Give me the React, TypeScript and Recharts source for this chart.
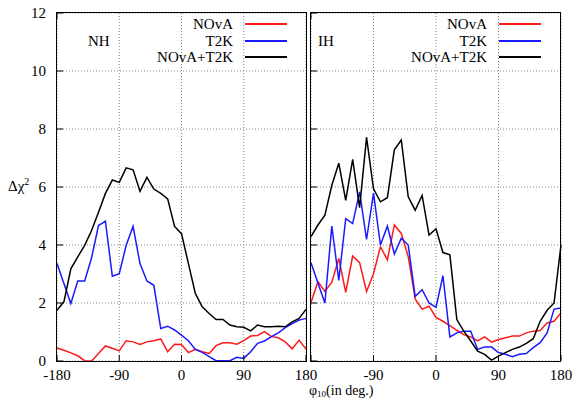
import React from 'react';
import { LineChart, Line, XAxis, YAxis, CartesianGrid, Legend } from 'recharts';

const phi = [-180, -170, -160, -150, -140, -130, -120, -110, -100, -90, -80, -70, -60, -50, -40, -30, -20, -10, 0, 10, 20, 30, 40, 50, 60, 70, 80, 90, 100, 110, 120, 130, 140, 150, 160, 170, 180];

const nhNova = [0.45, 0.37, 0.28, 0.18, 0.01, 0.0, 0.26, 0.52, 0.44, 0.35, 0.70, 0.66, 0.57, 0.66, 0.70, 0.76, 0.32, 0.58, 0.57, 0.29, 0.40, 0.32, 0.26, 0.53, 0.63, 0.63, 0.58, 0.70, 0.86, 0.88, 1.01, 0.84, 0.80, 0.66, 0.42, 0.72, 0.41];
const nhT2k = [3.36, 2.67, 1.98, 2.76, 2.76, 3.56, 4.67, 4.82, 2.92, 3.01, 3.99, 4.64, 3.36, 2.76, 2.61, 1.12, 1.20, 1.07, 0.89, 0.70, 0.40, 0.30, 0.15, 0.01, 0.01, 0.01, 0.13, 0.09, 0.32, 0.61, 0.69, 0.84, 0.97, 1.15, 1.29, 1.41, 1.47];
const nhComb = [1.75, 2.04, 3.18, 3.59, 3.99, 4.50, 5.13, 5.78, 6.24, 6.16, 6.66, 6.59, 5.85, 6.33, 5.93, 5.78, 5.59, 4.64, 4.39, 3.36, 2.33, 1.87, 1.64, 1.43, 1.43, 1.24, 1.18, 1.16, 1.04, 1.24, 1.18, 1.18, 1.20, 1.18, 1.35, 1.47, 1.78];

const ihNova = [2.02, 2.74, 2.40, 2.72, 3.54, 2.37, 3.62, 3.39, 2.40, 3.01, 3.94, 3.49, 4.69, 4.40, 3.60, 2.14, 1.79, 1.89, 1.50, 1.37, 1.22, 1.06, 0.91, 0.83, 0.69, 0.83, 0.65, 0.74, 0.80, 0.86, 0.86, 0.97, 1.03, 1.05, 1.31, 1.37, 1.66];
const ihT2k = [3.39, 2.69, 2.00, 4.65, 2.78, 4.91, 4.74, 5.83, 4.19, 5.79, 4.00, 4.65, 3.69, 4.23, 4.00, 2.23, 2.46, 2.00, 1.85, 2.94, 0.83, 0.97, 1.03, 1.03, 0.40, 0.48, 0.48, 0.29, 0.23, 0.15, 0.23, 0.26, 0.46, 0.63, 0.97, 1.79, 1.83];
const ihComb = [4.29, 4.69, 5.03, 6.06, 6.82, 5.54, 6.95, 5.29, 7.71, 5.94, 5.49, 5.63, 7.28, 7.62, 5.66, 5.20, 5.71, 4.34, 4.56, 3.74, 3.66, 1.43, 1.03, 0.69, 0.34, 0.23, 0.03, 0.17, 0.29, 0.40, 0.48, 0.61, 0.77, 1.37, 1.75, 2.00, 4.00];

const xTicks = [-180, -90, 0, 90, 180];
const yTicks = [0, 2, 4, 6, 8, 10, 12];
const seriesNames = ['NOvA', 'T2K', 'NOvA+T2K'];
const seriesColors = ['#ff1a1a', '#1a1aff', '#000000'];

const FONT = '"Liberation Serif", "DejaVu Serif", serif';

const nhData = phi.map((p, i) => ({ phi: p, nova: nhNova[i], t2k: nhT2k[i], comb: nhComb[i] }));
const ihData = phi.map((p, i) => ({ phi: p, nova: ihNova[i], t2k: ihT2k[i], comb: ihComb[i] }));

const tickStyle = { fill: '#000', fontSize: 15, fontFamily: FONT };
const tickLineStyle = { stroke: '#000', strokeWidth: 1 };

function LegendBox() {
  return (
    <div style={{ fontFamily: FONT, fontSize: 15, lineHeight: '16.5px', color: '#000' }}>
      {seriesNames.map((name, i) => (
        <div key={name} style={{ display: 'flex', justifyContent: 'flex-end', alignItems: 'center', height: 16.5 }}>
          <span>{name}</span>
          <svg width={42} height={6} style={{ marginLeft: 12 }}>
            <line x1={0} x2={42} y1={3} y2={3} stroke={seriesColors[i]} strokeWidth={2} />
          </svg>
        </div>
      ))}
    </div>
  );
}

function Panel(props: { data: any[]; showY: boolean; width: number; marginRight: number; legendWidth: number; xTickFmt: (v: number) => string }) {
  const { data, showY, width, marginRight, legendWidth, xTickFmt } = props;
  return (
    <LineChart width={width} height={400} data={data} margin={{ top: 12, right: marginRight, bottom: 9, left: 0 }}>
      <CartesianGrid stroke="#888" strokeDasharray="1 2" />
      <XAxis
        dataKey="phi"
        type="number"
        domain={[-180, 180]}
        ticks={xTicks}
        height={30}
        tickSize={-6}
        tickMargin={14}
        tick={tickStyle}
        stroke="#000"
        tickLine={tickLineStyle}
        axisLine={false}
        tickFormatter={xTickFmt}
        interval={0}
      />
      <XAxis
        xAxisId="top"
        orientation="top"
        type="number"
        domain={[-180, 180]}
        ticks={xTicks}
        height={1}
        tickSize={-6}
        tickFormatter={() => ''}
        stroke="#000"
        tickLine={tickLineStyle}
        axisLine={false}
        interval={0}
      />
      <YAxis
        type="number"
        domain={[0, 12]}
        ticks={yTicks}
        width={showY ? 57 : 1}
        tickSize={-6}
        tickMargin={17}
        tick={tickStyle}
        tickFormatter={showY ? (v: number) => String(v) : () => ''}
        stroke="#000"
        tickLine={tickLineStyle}
        axisLine={false}
        interval={0}
      />
      <YAxis
        yAxisId="right"
        orientation="right"
        type="number"
        domain={[0, 12]}
        ticks={yTicks}
        width={1}
        tickSize={-6}
        tickFormatter={() => ''}
        stroke="#000"
        tickLine={tickLineStyle}
        axisLine={false}
        interval={0}
      />
      <Legend
        layout="horizontal"
        align="center"
        verticalAlign="middle"
        content={<LegendBox />}
        wrapperStyle={{ position: 'absolute', top: 16, left: 0, width: legendWidth, height: 50 }}
      />
      <Line dataKey="nova" name={seriesNames[0]} stroke={seriesColors[0]} strokeWidth={1.5} dot={false} isAnimationActive={false} />
      <Line dataKey="t2k" name={seriesNames[1]} stroke={seriesColors[1]} strokeWidth={1.5} dot={false} isAnimationActive={false} />
      <Line dataKey="comb" name={seriesNames[2]} stroke={seriesColors[2]} strokeWidth={1.5} dot={false} isAnimationActive={false} />
    </LineChart>
  );
}

export default function App() {
  const textStyle: React.CSSProperties = { position: 'absolute', fontFamily: FONT, fontSize: 15, color: '#000', whiteSpace: 'nowrap', lineHeight: '17px' };
  const frameStyle: React.CSSProperties = { position: 'absolute', top: 12.25, width: 250.5, height: 349.5, border: '1.5px solid #000', boxSizing: 'border-box', pointerEvents: 'none' };
  return (
    <div style={{ position: 'absolute', left: 0, top: 0, width: 574, height: 400, background: '#fff' }}>
      <div style={{ position: 'absolute', left: 0, top: 0 }}>
        <Panel data={nhData} showY={true} width={330} marginRight={23} legendWidth={287} xTickFmt={(v) => String(v)} />
      </div>
      <div style={{ position: 'absolute', left: 310, top: 0 }}>
        <Panel data={ihData} showY={false} width={264} marginRight={12} legendWidth={231} xTickFmt={(v) => (v === -180 ? '' : String(v))} />
      </div>
      <div style={{ ...frameStyle, left: 56.25 }} />
      <div style={{ ...frameStyle, left: 310.25 }} />
      <div style={{ ...textStyle, left: 88, top: 33 }}>NH</div>
      <div style={{ ...textStyle, left: 318, top: 33 }}>IH</div>
      <div style={{ ...textStyle, left: 8, top: 178 }}>
        Δχ<sup style={{ fontSize: 10, verticalAlign: 'super', lineHeight: 0 }}>2</sup>
      </div>
      <div style={{ ...textStyle, left: 309, top: 384.1, fontSize: 14, lineHeight: '14px' }}>
        φ<sub style={{ fontSize: 9, verticalAlign: '-2px', lineHeight: 0 }}>10</sub>(in deg.)
      </div>
    </div>
  );
}
